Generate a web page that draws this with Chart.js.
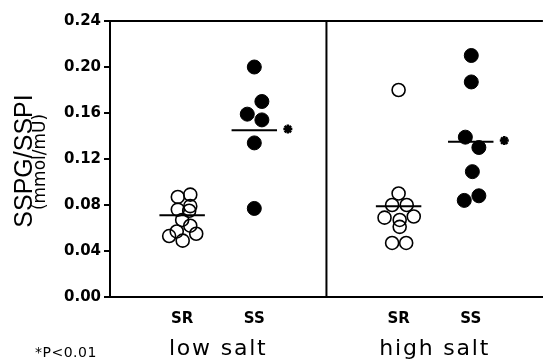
<!DOCTYPE html>
<html>
<head>
<meta charset="utf-8">
<script src="https://cdn.jsdelivr.net/npm/chart.js@4.4.1/dist/chart.umd.min.js"></script>
<style>
  html, body { margin: 0; padding: 0; background: #fff; }
</style>
</head>
<body>
<canvas id="chart" width="551" height="361"></canvas>
<script>
// data
const categories = ['SR', 'SS', 'SR', 'SS'];
const groups = ['low salt', 'high salt'];
const yTickLabels = ['0.00', '0.04', '0.08', '0.12', '0.16', '0.20', '0.24'];

const lowSR = [0.087, 0.089, 0.076, 0.079, 0.075, 0.067, 0.062, 0.053, 0.057, 0.055, 0.049];
const lowSS = [0.200, 0.170, 0.159, 0.154, 0.134, 0.077];
const highSR = [0.180, 0.090, 0.080, 0.080, 0.069, 0.070, 0.067, 0.061, 0.047, 0.047];
const highSS = [0.210, 0.187, 0.139, 0.130, 0.109, 0.088, 0.084];

// horizontal scatter of the points around their column
const lowSRjitter = [-0.04, 0.075, -0.04, 0.075, 0.065, 0, 0.075, -0.12, -0.05, 0.13, 0.005];
const lowSSjitter = [0, 0.07, -0.065, 0.07, 0, 0];
const highSRjitter = [0, 0, -0.06, 0.075, -0.13, 0.14, 0.01, 0.01, -0.06, 0.07];
const highSSjitter = [0.005, 0.005, -0.05, 0.075, 0.015, 0.075, -0.06];

const means = [0.071, 0.145, 0.079, 0.135];
const significant = [false, true, false, true];

// column centres on the x scale (0..4, two panels of width 2)
const colX = [2 / 3, 4 / 3, 8 / 3, 10 / 3];

function pts(values, jitter, col) {
  return values.map((v, i) => ({ x: colX[col] + jitter[i], y: v }));
}

const openStyle = {
  type: 'scatter', pointStyle: 'circle', pointRadius: 6.5,
  pointBorderWidth: 1.6, pointBorderColor: '#000', pointBackgroundColor: 'rgba(0,0,0,0)'
};
const filledStyle = {
  type: 'scatter', pointStyle: 'circle', pointRadius: 7,
  pointBorderWidth: 1, pointBorderColor: '#000', pointBackgroundColor: '#000'
};

const datasets = [
  Object.assign({ data: pts(lowSR, lowSRjitter, 0) }, openStyle),
  Object.assign({ data: pts(lowSS, lowSSjitter, 1) }, filledStyle),
  Object.assign({ data: pts(highSR, highSRjitter, 2) }, openStyle),
  Object.assign({ data: pts(highSS, highSSjitter, 3) }, filledStyle)
];

// mean bars
means.forEach((m, i) => {
  datasets.push({
    type: 'line',
    data: [{ x: colX[i] - 0.21, y: m }, { x: colX[i] + 0.21, y: m }],
    borderColor: '#000', borderWidth: 2, pointRadius: 0
  });
});

// significance asterisks
datasets.push({
  type: 'scatter',
  data: means.map((m, i) => significant[i] ? { x: colX[i] + 0.31, y: m + 0.001 } : null).filter(Boolean),
  pointStyle: 'star', pointRadius: 4.5, pointBorderWidth: 2.5,
  pointBorderColor: '#000', pointBackgroundColor: '#000'
});

const frame = {
  id: 'frame',
  afterDraw(chart) {
    const ctx = chart.ctx;
    const a = chart.chartArea;
    const xs = chart.scales.x;
    ctx.save();
    ctx.strokeStyle = '#000';
    ctx.lineWidth = 2;
    ctx.beginPath();
    ctx.moveTo(a.left, a.top);
    ctx.lineTo(a.right, a.top);
    const mid = xs.getPixelForValue(2);
    ctx.moveTo(mid, a.top);
    ctx.lineTo(mid, a.bottom);
    ctx.stroke();

    ctx.fillStyle = '#000';
    // group labels
    ctx.font = '22px "DejaVu Sans"';
    ctx.letterSpacing = '1.8px';
    ctx.textAlign = 'center';
    ctx.textBaseline = 'alphabetic';
    ctx.fillText(groups[0], xs.getPixelForValue(1), 355);
    ctx.fillText(groups[1], xs.getPixelForValue(3), 355);

    // footnote
    ctx.font = '14px "DejaVu Sans"';
    ctx.letterSpacing = '0.5px';
    ctx.textAlign = 'left';
    ctx.fillText('*P<0.01', 35, 357);
    ctx.letterSpacing = '0px';

    // y axis title
    const cy = (a.top + a.bottom) / 2 + 2;
    ctx.textAlign = 'center';
    ctx.save();
    ctx.translate(32, cy);
    ctx.rotate(-Math.PI / 2);
    ctx.font = '25px "Liberation Sans"';
    ctx.fillText('SSPG/SSPI', 0, 0);
    ctx.restore();
    ctx.save();
    ctx.translate(45, cy + 1);
    ctx.rotate(-Math.PI / 2);
    ctx.font = '17px "DejaVu Sans"';
    ctx.fillText('(mmol/mU)', 0, 0);
    ctx.restore();
    ctx.restore();
  }
};

new Chart(document.getElementById('chart'), {
  data: { datasets: datasets },
  options: {
    responsive: false,
    animation: false,
    events: [],
    layout: { padding: { top: 21, right: 0, bottom: 0, left: 0 } },
    plugins: { legend: { display: false }, tooltip: { enabled: false } },
    scales: {
      x: {
        type: 'linear', min: 0, max: 4,
        afterFit: (s) => { s.height = 64; },
        afterBuildTicks: (s) => { s.ticks = colX.map(v => ({ value: v })); },
        grid: { display: false, drawTicks: false },
        border: { display: true, color: '#000', width: 2 },
        ticks: {
          autoSkip: false, maxRotation: 0, padding: 13, color: '#000',
          font: { family: 'DejaVu Sans', size: 15, weight: 'bold' },
          callback: (v, i) => categories[i]
        }
      },
      y: {
        min: 0, max: 0.24,
        afterFit: (s) => { s.width = 110; },
        grid: { display: true, drawOnChartArea: false, drawTicks: true, tickLength: 6, color: '#000', lineWidth: 2 },
        border: { display: true, color: '#000', width: 2 },
        ticks: {
          stepSize: 0.04, padding: 3, color: '#000',
          font: { family: 'DejaVu Sans', size: 15, weight: 'bold' },
          callback: (v, i) => yTickLabels[i]
        }
      }
    }
  },
  plugins: [frame]
});
</script>
</body>
</html>
